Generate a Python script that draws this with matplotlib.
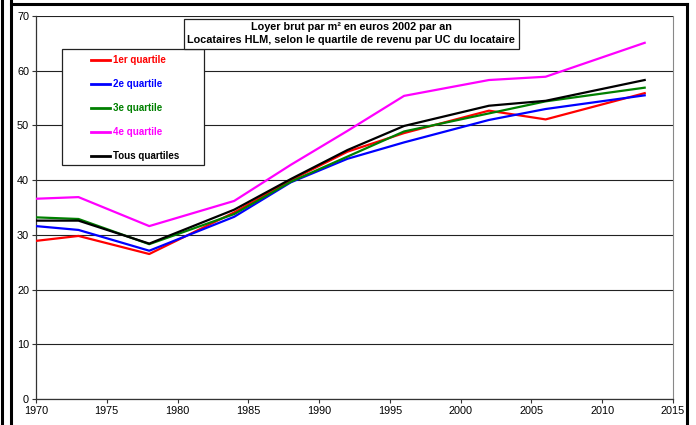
import matplotlib
matplotlib.use('Agg')
import matplotlib.pyplot as plt
from matplotlib.lines import Line2D
from matplotlib.patches import Rectangle

plt.rcParams['font.family'] = ['Liberation Sans', 'DejaVu Sans']

years = [1970, 1973, 1978, 1984, 1988, 1992, 1996, 2002, 2006, 2013]
q1 = [28.9, 29.8, 26.5, 34.1, 40.0, 45.2, 48.6, 52.7, 51.1, 55.9]
q2 = [31.6, 30.9, 27.1, 33.3, 39.6, 43.9, 46.9, 51.0, 53.0, 55.5]
q3 = [33.2, 32.9, 28.3, 33.8, 39.7, 44.3, 48.9, 52.2, 54.4, 56.9]
q4 = [36.6, 36.9, 31.6, 36.2, 42.8, 49.0, 55.4, 58.3, 58.9, 65.1]
tous = [32.6, 32.6, 28.4, 34.6, 40.2, 45.5, 49.9, 53.6, 54.5, 58.3]

series = [
    ('1er quartile', q1, '#ff0000'),
    ('2e quartile', q2, '#0000ff'),
    ('3e quartile', q3, '#008000'),
    ('4e quartile', q4, '#ff00ff'),
    ('Tous quartiles', tous, '#000000'),
]

title = "Loyer brut par m² en euros 2002 par an\nLocataires HLM, selon le quartile de revenu par UC du locataire"

fig = plt.figure(figsize=(6.96, 4.25), dpi=100)
W, H = 696, 425
ax = fig.add_axes([36 / W, 1 - 399 / H, (673 - 36) / W, (399 - 16) / H])

for label, vals, color in series:
    ax.plot(years, vals, color=color, lw=1.6, label=label, zorder=3)

ax.set_xlim(1970, 2015)
ax.set_ylim(0, 70)
ax.set_xticks(range(1970, 2016, 5))
ax.set_yticks(range(0, 71, 10))
ax.tick_params(labelsize=7.8, length=3, width=0.8, color='#333333', pad=2)
ax.grid(axis='y', color='#222222', lw=0.8, zorder=1)
ax.set_axisbelow(True)
for side in ['left', 'bottom']:
    ax.spines[side].set_color('#333333')
    ax.spines[side].set_linewidth(0.9)
ax.spines['right'].set_color('#888888')
ax.spines['top'].set_visible(False)

# title box
ax.text(0.495, 0.954, title, transform=ax.transAxes, ha='center', va='center',
        fontsize=7.8, fontweight='bold', linespacing=1.3, zorder=5,
        bbox=dict(boxstyle='square,pad=0.35', fc='white', ec='#222222', lw=0.9))

# legend frame (drawn separately: wide right padding as in original)
ax.add_patch(Rectangle((62 / W, 1 - 165 / H), (204 - 62) / W, (165 - 49) / H,
                       transform=fig.transFigure, fc='white', ec='#222222',
                       lw=0.9, zorder=4, clip_on=False))
leg = ax.legend(loc='upper left', bbox_to_anchor=((88 - 36) / 637, (399 - 52) / 383),
                frameon=False, prop={'size': 7, 'weight': 'bold'}, handlelength=2.0,
                handletextpad=0.25, labelspacing=1.45, borderpad=0.3,
                borderaxespad=0)
leg.set_zorder(6)
for txt, (_, _, color) in zip(leg.get_texts(), series):
    txt.set_color(color)
for h in leg.get_lines():
    h.set_linewidth(2)

# outer frame lines
for (x0, y0, x1, y1) in [(1.5, 0, 1.5, H), (11, 0, 11, H), (11, 4, 687, 4), (687, 4, 687, H)]:
    fig.add_artist(Line2D([x0 / W, x1 / W], [1 - y0 / H, 1 - y1 / H],
                          color='black', lw=2.2, transform=fig.transFigure))

fig.savefig('out.png', dpi=100)
